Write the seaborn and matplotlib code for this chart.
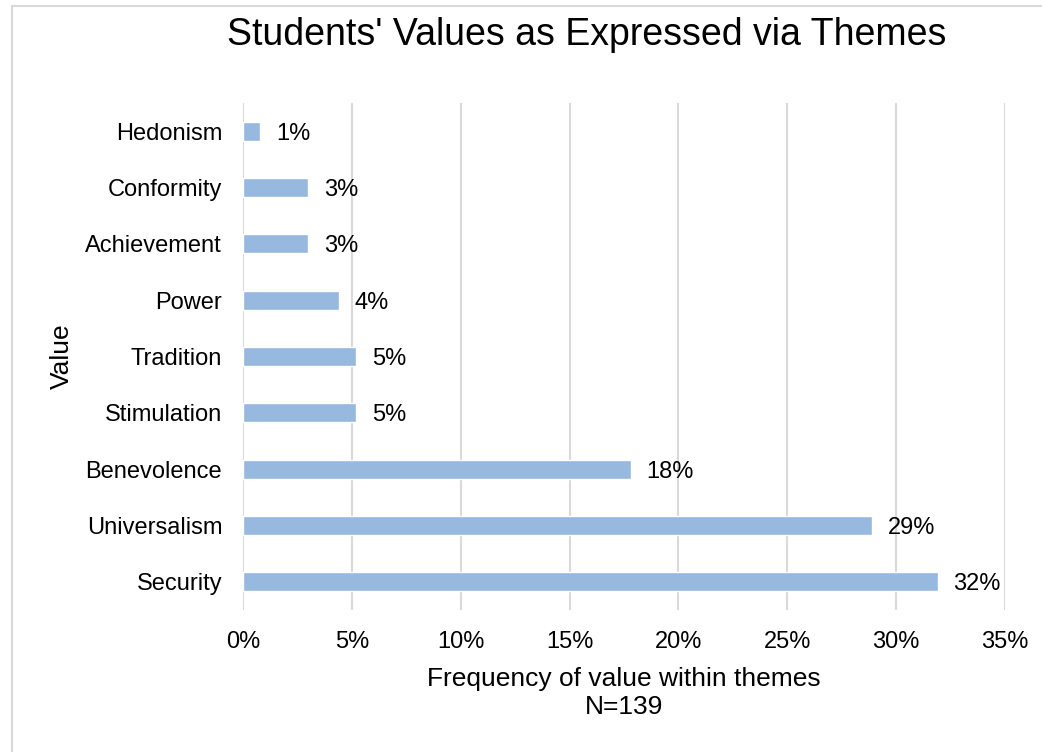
import matplotlib
matplotlib.use("Agg")
import matplotlib.pyplot as plt
from matplotlib.patches import Rectangle
from matplotlib.ticker import FuncFormatter
import seaborn as sns
import pandas as pd

categories = ["Hedonism", "Conformity", "Achievement", "Power", "Tradition",
              "Stimulation", "Benevolence", "Universalism", "Security"]
shares = [0.8, 3.0, 3.0, 4.4, 5.2, 5.2, 17.8, 28.9, 31.9]
x_ticks = [0, 5, 10, 15, 20, 25, 30, 35]

df = pd.DataFrame({"Value": categories, "Share": shares})

sns.set_theme(style="white")
plt.rcParams["font.family"] = ["Liberation Sans", "DejaVu Sans"]

fig = plt.figure(figsize=(10.42, 7.52), dpi=100)
ax = fig.add_axes([0.2332, 0.1888, 0.7313, 0.6742])

sns.barplot(data=df, x="Share", y="Value", orient="h", color="#97B9DF",
            saturation=1, width=0.34, ax=ax, zorder=3)

ax.set_xlim(0, 35)
ax.set_xticks(x_ticks)
ax.xaxis.set_major_formatter(FuncFormatter(lambda v, p: f"{v:.0f}%"))
ax.grid(axis="x", color="#D9D9D9", linewidth=1.5, zorder=0)
ax.grid(axis="y", visible=False)
for s in ax.spines.values():
    s.set_visible(False)
ax.tick_params(axis="both", length=0, labelsize=17, colors="black")
ax.tick_params(axis="y", pad=15)
ax.tick_params(axis="x", pad=15)

for i, v in enumerate(shares):
    ax.annotate(f"{v:.0f}%", xy=(v, i), xytext=(11.5, 0), textcoords="offset points",
                ha="left", va="center_baseline", fontsize=17, color="black")

ax.set_xlabel("Frequency of value within themes\nN=139", fontsize=19,
              labelpad=10, linespacing=1.2, color="black")
ax.set_ylabel("Value", fontsize=19, labelpad=8, color="black")

fig.text(0.5635, 0.953, "Students' Values as Expressed via Themes", ha="center",
         va="center", fontsize=27, color="black")

fig.patches.append(Rectangle((12 / 1042, -0.05), 1.2, 1.05 - 6 / 752,
                             transform=fig.transFigure, fill=False,
                             edgecolor="#D9D9D9", linewidth=1.5))

fig.savefig("out.png", dpi=100)
